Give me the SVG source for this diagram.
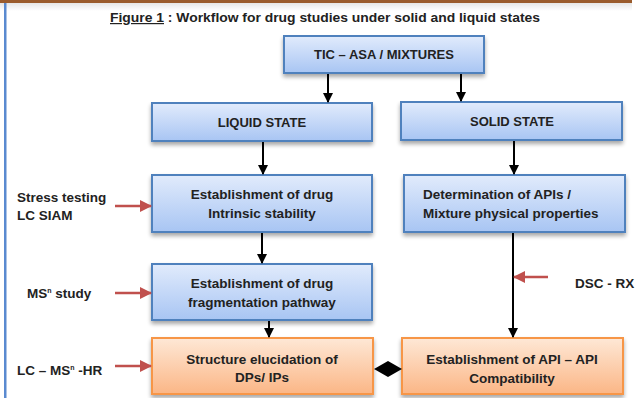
<svg xmlns="http://www.w3.org/2000/svg" width="642" height="398" viewBox="0 0 642 398">
<defs>
<linearGradient id="gBlue" x1="0" y1="0" x2="0" y2="1"><stop offset="0" stop-color="#e1ebfc"/><stop offset="1" stop-color="#a8c5f3"/></linearGradient>
<linearGradient id="gOrange" x1="0" y1="0" x2="0" y2="1"><stop offset="0" stop-color="#fee8d6"/><stop offset="1" stop-color="#fbb686"/></linearGradient>
<linearGradient id="gShade" x1="0" y1="0" x2="0" y2="1"><stop offset="0" stop-color="#000" stop-opacity="0.25"/><stop offset="1" stop-color="#000" stop-opacity="0"/></linearGradient>
<filter id="sh" x="-10%" y="-10%" width="120%" height="140%"><feGaussianBlur in="SourceAlpha" stdDeviation="2"/><feOffset dx="0" dy="3"/><feComponentTransfer><feFuncA type="linear" slope="0.35"/></feComponentTransfer><feMerge><feMergeNode/><feMergeNode in="SourceGraphic"/></feMerge></filter>
<marker id="ab" markerWidth="10" markerHeight="10" refX="9" refY="5" orient="auto" markerUnits="userSpaceOnUse"><path d="M0,0 L10,5 L0,10 Z" fill="#000"/></marker>
<marker id="ar" markerWidth="12" markerHeight="12" refX="11" refY="6" orient="auto" markerUnits="userSpaceOnUse"><path d="M0,0 L12,6 L0,12 Z" fill="#c0504d"/></marker>
</defs>
<style>
.blue{fill:url(#gBlue);stroke:#4f81bd;stroke-width:2;filter:url(#sh)}
.orange{fill:url(#gOrange);stroke:#f79646;stroke-width:2;filter:url(#sh)}
text{font-family:"Liberation Sans",Arial,sans-serif;font-weight:bold;font-size:13.5px;fill:#222}
.cap{font-size:13px}
.c{text-anchor:middle}
.k{stroke:#000;stroke-width:2;fill:none;marker-end:url(#ab)}
.r{stroke:#c0504d;stroke-width:2.5;fill:none;marker-end:url(#ar)}
</style>
<rect x="0" y="0" width="632" height="3" fill="#9a5b2c"/>
<rect x="0" y="3" width="632" height="8" fill="url(#gShade)" opacity="0.4"/>
<rect x="4" y="3" width="2.5" height="395" fill="#5a8ad0"/>
<text x="325" y="22" class="c" font-size="12" style="font-size:12px" textLength="430" lengthAdjust="spacingAndGlyphs"><tspan text-decoration="underline">Figure 1</tspan> : Workflow for drug studies under solid and liquid states</text>
<g id="tic"><rect class="blue" x="284" y="36" width="200" height="37"/><text class="c cap" x="384" y="59">TIC – ASA / MIXTURES</text></g>
<g id="liquid"><rect class="blue" x="152" y="103" width="220" height="38"/><text class="c cap" x="262" y="127">LIQUID STATE</text></g>
<g id="solid"><rect class="blue" x="401" y="102" width="221" height="38"/><text class="c cap" x="512" y="126">SOLID STATE</text></g>
<g id="intrinsic"><rect class="blue" x="152" y="175" width="220" height="57"/><text class="c" x="262" y="199">Establishment of drug</text><text class="c" x="262" y="218">Intrinsic stability</text></g>
<g id="determination"><rect class="blue" x="404" y="175" width="221" height="57"/><text x="423" y="199">Determination of APIs /</text><text x="423" y="218">Mixture physical properties</text></g>
<g id="fragmentation"><rect class="blue" x="152" y="264" width="220" height="56"/><text class="c" x="262" y="288">Establishment of drug</text><text class="c" x="262" y="307">fragmentation pathway</text></g>
<g id="structure"><rect class="orange" x="152" y="338" width="221" height="56"/><text class="c" x="262" y="364">Structure elucidation of</text><text class="c" x="262" y="382">DPs/ IPs</text></g>
<g id="compat"><rect class="orange" x="402" y="338" width="221" height="56"/><text class="c" x="512" y="364">Establishment of API – API</text><text class="c" x="512" y="383">Compatibility</text></g>
<g id="labels">
<text x="17" y="202">Stress testing</text>
<text x="17" y="220">LC SIAM</text>
<text x="27" y="298">MS<tspan font-size="7" style="font-size:7px" dy="-5">n</tspan><tspan dy="5"> study</tspan></text>
<text x="17" y="375">LC – MS<tspan style="font-size:7px" dy="-5">n</tspan><tspan dy="5"> -HR</tspan></text>
<text x="575" y="288">DSC - RX</text>
</g>
<g id="connectors">
<line class="k" x1="328" y1="74" x2="328" y2="102"/>
<line class="k" x1="461" y1="74" x2="461" y2="101"/>
<line class="k" x1="263" y1="142" x2="263" y2="174"/>
<line class="k" x1="514" y1="141" x2="514" y2="174"/>
<line class="k" x1="262" y1="233" x2="262" y2="263"/>
<line class="k" x1="269" y1="321" x2="269" y2="337"/>
<line class="k" x1="513" y1="233" x2="513" y2="337"/>
<line class="r" x1="115" y1="206" x2="151" y2="206"/>
<line class="r" x1="115" y1="293" x2="151" y2="293"/>
<line class="r" x1="115" y1="366" x2="151" y2="366"/>
<line class="r" x1="548" y1="277" x2="514" y2="277"/>
<polygon points="374,369 388,361 402,369 388,377" fill="#000"/>
</g>
</svg>
